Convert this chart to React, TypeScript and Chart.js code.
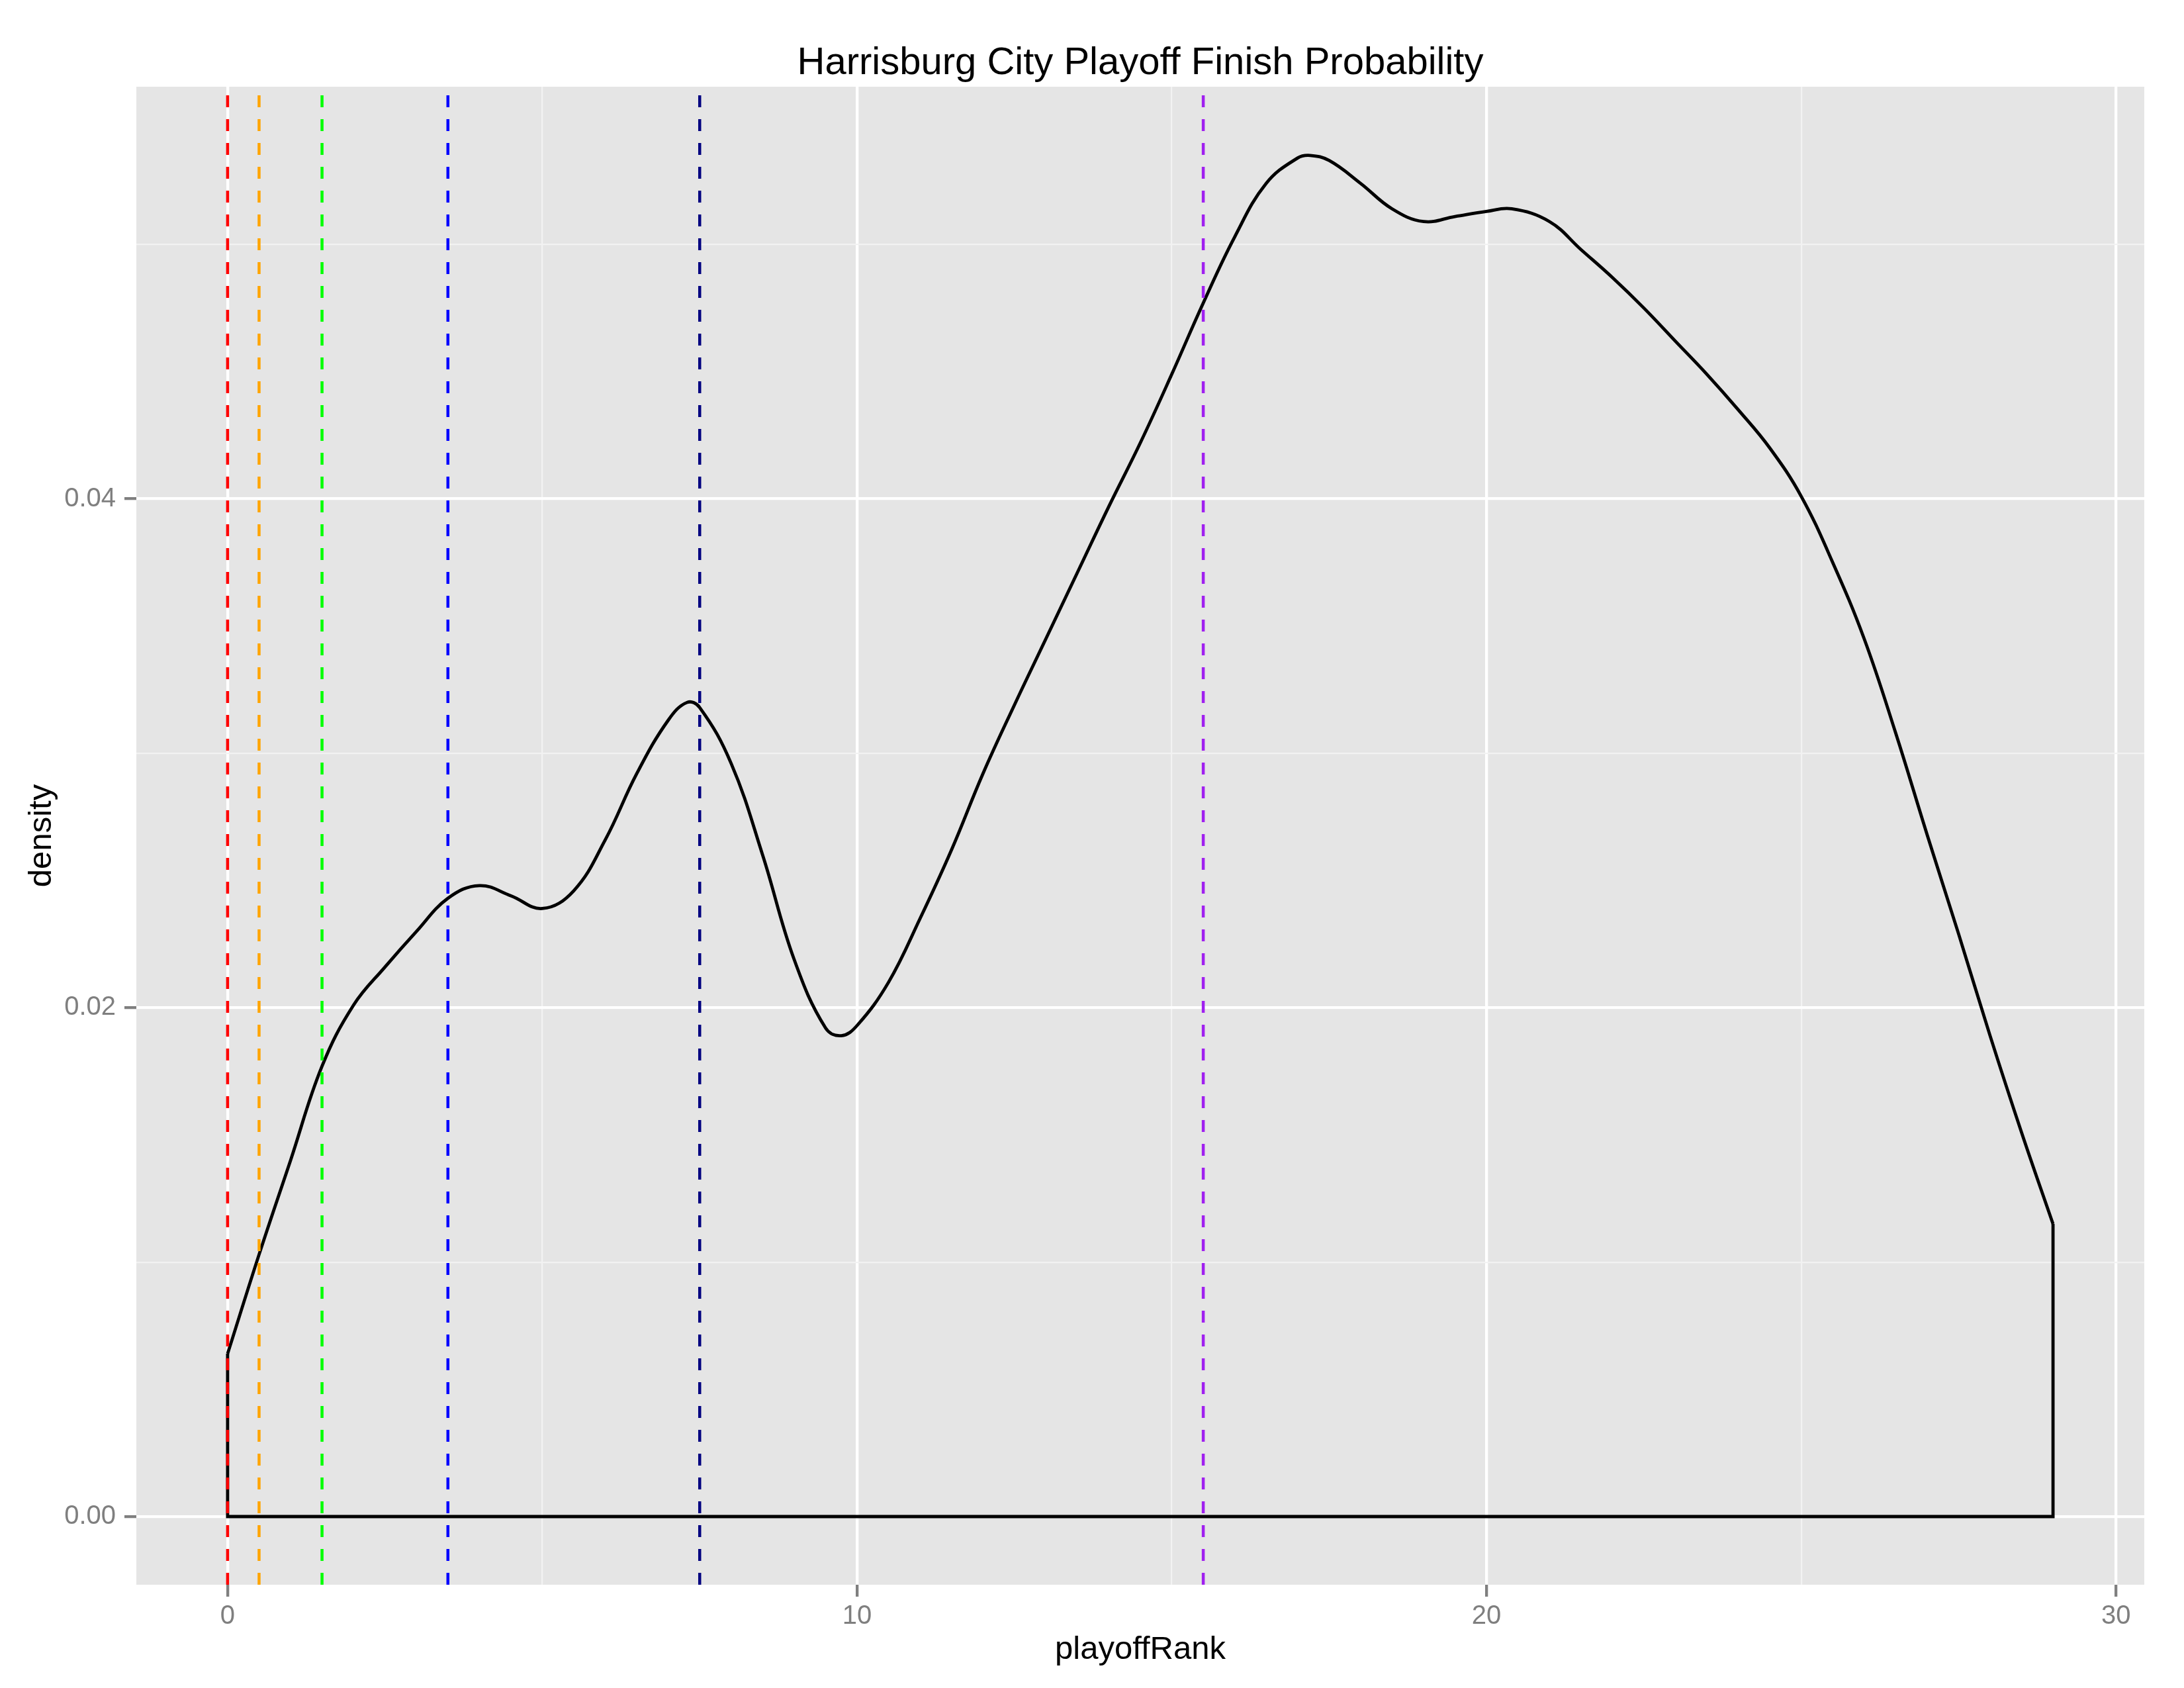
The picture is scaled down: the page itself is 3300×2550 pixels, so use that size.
import React, { useEffect, useRef } from 'react';
import { Chart, registerables } from 'chart.js';

Chart.register(...registerables);

// density curve
const rankX = [
  0, 0.5, 1, 1.5, 2, 2.5, 3, 3.5, 4, 4.5, 5, 5.5, 6, 6.5, 7, 7.3, 7.5, 8, 8.5, 9,
  9.5, 9.75, 10, 10.5, 11, 11.5, 12, 12.5, 13, 13.5, 14, 14.5, 15, 15.5, 16, 16.5,
  17, 17.2, 17.5, 18, 18.5, 19, 19.5, 20, 20.4, 21, 21.5, 22, 22.5, 23, 23.5, 24,
  24.5, 25, 25.5, 26, 26.5, 27, 27.5, 28, 28.5, 29,
];
const densityY = [
  0.0064, 0.0103, 0.014, 0.0177, 0.0201, 0.0216, 0.023, 0.0243, 0.0248, 0.0244,
  0.0239, 0.0246, 0.0266, 0.0292, 0.0313, 0.032, 0.0318, 0.0296, 0.026, 0.0219,
  0.0192, 0.0189, 0.0193, 0.021, 0.0235, 0.0262, 0.0292, 0.0319, 0.0345, 0.0371,
  0.0397, 0.0422, 0.0449, 0.0477, 0.0503, 0.0524, 0.0534, 0.0535, 0.0533, 0.0524,
  0.0514, 0.0509, 0.0511, 0.0513, 0.0514, 0.0509, 0.0498, 0.0487, 0.0475, 0.0462,
  0.0449, 0.0435, 0.042, 0.0401, 0.0375, 0.0345, 0.0308, 0.0268, 0.0229, 0.0189,
  0.0151, 0.0115,
];

// playoff cut-off lines
const cutoffRanks = [0, 0.5, 1.5, 3.5, 7.5, 15.5];
const cutoffColors = ['#FF0000', '#FFA500', '#00FF00', '#0000FF', '#000080', '#A020F0'];

// axis ticks
const xGridValues = [0, 5, 10, 15, 20, 25, 30];
const xLabelValues = [0, 10, 20, 30];
const yGridValues = [0, 0.01, 0.02, 0.03, 0.04, 0.05];
const yLabelValues = [0, 0.02, 0.04];

const X_MIN = -1.45;
const X_MAX = 30.45;
const Y_MIN = -0.00268;
const Y_MAX = 0.0562;

const FONT = 'Liberation Sans, Arial, Helvetica, sans-serif';
const TICK_GREY = '#7F7F7F';
const LINE_W = 4.8;

const isLabel = (list: number[], v: number) => list.some((t) => Math.abs(t - v) < 1e-9);

const panelBackground = {
  id: 'panelBackground',
  beforeDraw(chart: Chart) {
    const { ctx, chartArea, width, height } = chart;
    ctx.save();
    ctx.fillStyle = '#FFFFFF';
    ctx.fillRect(0, 0, width, height);
    ctx.fillStyle = '#E5E5E5';
    ctx.fillRect(chartArea.left, chartArea.top, chartArea.right - chartArea.left, chartArea.bottom - chartArea.top);
    ctx.restore();
  },
};

const App: React.FC = () => {
  const chartRef = useRef<HTMLCanvasElement>(null);

  useEffect(() => {
    if (!chartRef.current) return;
    const ctx = chartRef.current.getContext('2d');
    if (!ctx) return;

    const curve = rankX.map((x, i) => ({ x, y: densityY[i] }));
    const last = rankX.length - 1;
    const outline = [
      { x: rankX[0], y: densityY[0] },
      { x: rankX[0], y: 0 },
      { x: rankX[last], y: 0 },
      { x: rankX[last], y: densityY[last] },
    ];

    const vlines = cutoffRanks.map((r, i) => ({
      data: [{ x: r, y: Y_MIN }, { x: r, y: Y_MAX }],
      borderColor: cutoffColors[i],
      borderWidth: 4.5,
      borderDash: [18, 18],
      pointRadius: 0,
      showLine: true,
      order: 0,
    }));

    const chart = new Chart(ctx, {
      type: 'scatter',
      data: {
        datasets: [
          ...vlines,
          {
            data: curve,
            borderColor: '#000000',
            borderWidth: LINE_W,
            pointRadius: 0,
            showLine: true,
            tension: 0.4,
            order: 1,
          },
          {
            data: outline,
            borderColor: '#000000',
            borderWidth: LINE_W,
            pointRadius: 0,
            showLine: true,
            tension: 0,
            order: 1,
          },
        ],
      },
      options: {
        responsive: false,
        devicePixelRatio: 1,
        animation: false,
        layout: { padding: { left: 0, right: 60, top: 0, bottom: 0 } },
        plugins: {
          legend: { display: false },
          tooltip: { enabled: false },
          title: {
            display: true,
            text: 'Harrisburg City Playoff Finish Probability',
            color: '#000000',
            fullSize: false,
            font: { family: FONT, size: 58, weight: 'normal', lineHeight: 1.2 },
            padding: { top: 61.4, bottom: 0 },
          },
        },
        scales: {
          x: {
            type: 'linear',
            min: X_MIN,
            max: X_MAX,
            afterBuildTicks: (scale: any) => {
              scale.ticks = xGridValues.map((v) => ({ value: v }));
            },
            afterFit: (scale: any) => {
              scale.height = 156;
            },
            border: { display: false },
            grid: {
              color: (c: any) => (c.tick && isLabel(xLabelValues, c.tick.value) ? '#FFFFFF' : '#F2F2F2'),
              lineWidth: (c: any) => (c.tick && isLabel(xLabelValues, c.tick.value) ? 4.3 : 2.2),
              tickColor: (c: any) => (c.tick && isLabel(xLabelValues, c.tick.value) ? TICK_GREY : 'rgba(0,0,0,0)'),
              tickWidth: 4.3,
              tickLength: 18,
              drawTicks: true,
            },
            ticks: {
              autoSkip: false,
              maxRotation: 0,
              padding: 6,
              color: TICK_GREY,
              font: { family: FONT, size: 40, lineHeight: 1.2 },
              callback: (v: any) => (isLabel(xLabelValues, Number(v)) ? String(Number(v)) : ''),
            },
            title: {
              display: true,
              text: 'playoffRank',
              color: '#000000',
              font: { family: FONT, size: 49, lineHeight: 1.2 },
              padding: { top: 0, bottom: 28 },
            },
          },
          y: {
            type: 'linear',
            min: Y_MIN,
            max: Y_MAX,
            afterBuildTicks: (scale: any) => {
              scale.ticks = yGridValues.map((v) => ({ value: v }));
            },
            afterFit: (scale: any) => {
              scale.width = 206;
            },
            border: { display: false },
            grid: {
              color: (c: any) => (c.tick && isLabel(yLabelValues, c.tick.value) ? '#FFFFFF' : '#F2F2F2'),
              lineWidth: (c: any) => (c.tick && isLabel(yLabelValues, c.tick.value) ? 4.3 : 2.2),
              tickColor: (c: any) => (c.tick && isLabel(yLabelValues, c.tick.value) ? TICK_GREY : 'rgba(0,0,0,0)'),
              tickWidth: 4.3,
              tickLength: 18,
              drawTicks: true,
            },
            ticks: {
              autoSkip: false,
              padding: 13,
              color: TICK_GREY,
              font: { family: FONT, size: 40, lineHeight: 1.2 },
              callback: (v: any) => (isLabel(yLabelValues, Number(v)) ? Number(v).toFixed(2) : ''),
            },
            title: {
              display: true,
              text: 'density',
              color: '#000000',
              font: { family: FONT, size: 49, lineHeight: 1.2 },
              padding: { top: 34, bottom: 0 },
            },
          },
        },
      },
      plugins: [panelBackground],
    } as any);

    return () => {
      chart.destroy();
    };
  }, []);

  return (
    <div style={{ position: 'absolute', left: 0, top: 0, width: 3300, height: 2550, background: '#FFFFFF' }}>
      <canvas ref={chartRef} width={3300} height={2550} style={{ display: 'block', width: 3300, height: 2550 }} />
    </div>
  );
};

export default App;
